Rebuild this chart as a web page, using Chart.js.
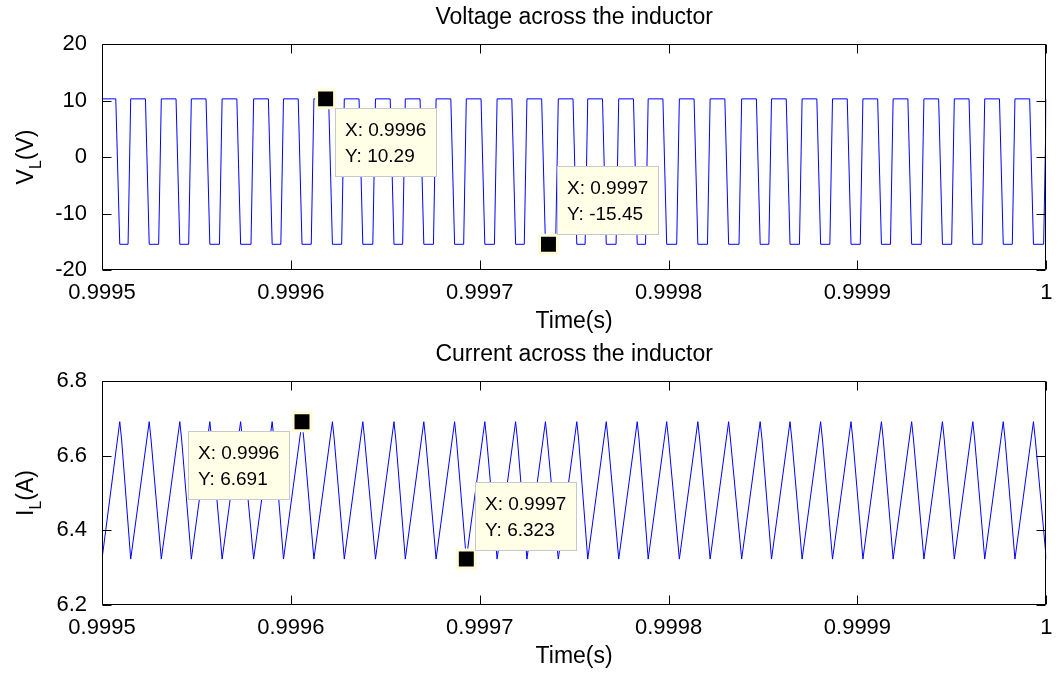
<!DOCTYPE html>
<html>
<head>
<meta charset="utf-8">
<script src="https://cdn.jsdelivr.net/npm/chart.js@4.4.1/dist/chart.umd.min.js"></script>
<style>
  html, body { margin: 0; padding: 0; background: #fff; }
  #wrap { position: relative; width: 1062px; height: 675px; }
  #wrap > div { position: absolute; left: 0; width: 1062px; }
</style>
</head>
<body>
<div id="wrap">
  <div style="top:0;height:337px"><canvas id="vChart" width="1062" height="337"></canvas></div>
  <div style="top:337px;height:338px"><canvas id="iChart" width="1062" height="338"></canvas></div>
</div>
<script>
// time axis, all times below are microseconds after t0
const t0 = 0.9995;
const xTicks = [0.9995, 0.9996, 0.9997, 0.9998, 0.9999, 1];
const xTickLabels = ["0.9995", "0.9996", "0.9997", "0.9998", "0.9999", "1"];
const vTicks = [-20, -10, 0, 10, 20];
const vTickLabels = ["-20", "-10", "0", "10", "20"];
const iTicks = [6.2, 6.4, 6.6, 6.8];
const iTickLabels = ["6.2", "6.4", "6.6", "6.8"];

// V_L reaches +10.29 (I_L sits at its valley)
const tOn = [0, 15.2, 31.4, 47.3, 63.6, 80.3, 96.1, 112.2, 128.3, 144.8, 160.6, 176.9, 192.9, 209.2, 225.0, 241.6,
  257.2, 273.6, 289.2, 305.7, 322.0, 338.7, 354.5, 370.7, 386.8, 402.9, 418.9, 435.2, 451.3, 467.4, 483.4, 500];
// V_L leaves +10.29
const tOffStart = [7.3, 23.0, 39.2, 55.1, 71.4, 88.1, 103.9, 120.0, 136.1, 152.6, 168.4, 184.7, 200.7, 217.0, 232.8,
  249.4, 265.0, 281.4, 297.0, 313.5, 329.8, 346.5, 362.3, 378.5, 394.6, 410.7, 426.7, 443.0, 459.1, 475.2, 491.2];
// V_L reaches -15.45 (I_L at its peak)
const tOff = [9.4, 25.0, 41.2, 57.1, 73.4, 90.1, 105.9, 122.0, 138.1, 154.6, 170.4, 186.7, 202.7, 219.0, 234.8,
  251.4, 267.0, 283.4, 299.0, 315.5, 331.8, 348.5, 364.3, 380.5, 396.6, 412.7, 428.7, 445.0, 461.1, 477.2, 493.2];
// V_L leaves -15.45
const tOnStart = [13.8, 30.0, 45.9, 62.2, 78.9, 94.7, 110.8, 126.9, 143.4, 159.2, 175.5, 191.5, 207.8, 223.6, 240.2,
  255.8, 272.2, 287.8, 304.3, 320.6, 337.3, 353.1, 369.3, 385.4, 401.5, 417.5, 433.8, 449.9, 466.0, 482.0, 498.6];
// small bend just after each I_L peak
const tKnee = [10.4, 26.0, 42.2, 58.1, 74.4, 91.1, 106.9, 123.0, 139.1, 155.6, 171.4, 187.7, 203.7, 220.0, 235.8,
  252.4, 268.0, 284.4, 300.0, 316.5, 332.8, 349.5, 365.3, 381.5, 397.6, 413.7, 429.7, 446.0, 462.1, 478.2, 494.2];

const vHigh = 10.29, vLow = -15.45;
const iPeak = 6.691, iValley = 6.323, iKnee = 6.642;

// data tips
const vTipT = [118.4, 236.4];
const vTipY = [10.29, -15.45];
const iTipT = [105.9, 192.9];
const iTipY = [6.691, 6.323];

const sec = us => t0 + us * 1e-6;

const vPts = [], iPts = [];
for (let k = 0; k < tOffStart.length; k++) {
  vPts.push({x: sec(tOn[k]), y: vHigh}, {x: sec(tOffStart[k]), y: vHigh},
            {x: sec(tOff[k]), y: vLow}, {x: sec(tOnStart[k]), y: vLow});
  iPts.push({x: sec(tOn[k]), y: iValley}, {x: sec(tOff[k]), y: iPeak}, {x: sec(tKnee[k]), y: iKnee});
}
vPts.push({x: sec(tOn[tOn.length - 1]), y: vHigh});
iPts.push({x: sec(tOn[tOn.length - 1]), y: iValley});

const vTips = vTipT.map((t, i) => ({x: sec(t), y: vTipY[i]}));
const iTips = iTipT.map((t, i) => ({x: sec(t), y: iTipY[i]}));

const FAM = '"Liberation Sans", Arial, sans-serif';
Chart.defaults.font.family = FAM;
Chart.defaults.font.size = 22;
Chart.defaults.color = "#000";

// matlab look: box, inward ticks, centred title, subscript y label, data tip boxes
const matlabAxes = {
  id: "matlabAxes",
  afterDatasetsDraw(chart, args, opts) {
    const ctx = chart.ctx;
    const pts = chart.getDatasetMeta(0).data;
    ctx.save();
    ctx.font = "19px " + FAM;
    pts.forEach((p, i) => {
      const raw = chart.data.datasets[0].data[i];
      const lines = ["X: " + raw.x.toPrecision(4), "Y: " + raw.y.toPrecision(4)];
      const w = Math.round(Math.max(...lines.map(s => ctx.measureText(s).width)) + 21);
      const h = 69;
      const pl = opts.boxes[i];
      const bx = Math.round(pl.left ? p.x + pl.dx - w : p.x + pl.dx);
      const by = Math.round(p.y + pl.dy);
      ctx.fillStyle = "#ffffe8";
      ctx.strokeStyle = "#c8c8c8";
      ctx.lineWidth = 1;
      ctx.fillRect(bx, by, w, h);
      ctx.strokeRect(bx + 0.5, by + 0.5, w - 1, h - 1);
      ctx.fillStyle = "#000";
      ctx.textBaseline = "middle";
      ctx.textAlign = "left";
      ctx.fillText(lines[0], bx + 10, by + 23);
      ctx.fillText(lines[1], bx + 10, by + 49);
    });
    ctx.restore();
  },
  afterDraw(chart, args, opts) {
    const {ctx, chartArea: a, scales: {x, y}} = chart;
    const L = Math.round(a.left) + 0.5, R = Math.round(a.right) - 0.5;
    const T = Math.round(a.top) + 0.5, B = Math.round(a.bottom) - 0.5;
    ctx.save();
    ctx.strokeStyle = "#000";
    ctx.lineWidth = 1;
    ctx.beginPath();
    ctx.rect(L, T, R - L, B - T);
    x.ticks.forEach(t => {
      const px = Math.round(x.getPixelForValue(t.value)) + 0.5;
      ctx.moveTo(px, B); ctx.lineTo(px, B - 9);
      ctx.moveTo(px, T); ctx.lineTo(px, T + 9);
    });
    y.ticks.forEach(t => {
      const py = Math.round(y.getPixelForValue(t.value)) + 0.5;
      ctx.moveTo(L, py); ctx.lineTo(L + 9, py);
      ctx.moveTo(R, py); ctx.lineTo(R - 9, py);
    });
    ctx.stroke();

    // title centred over the axes
    ctx.fillStyle = "#000";
    ctx.font = "23px " + FAM;
    ctx.textAlign = "center";
    ctx.textBaseline = "middle";
    ctx.fillText(opts.title, (a.left + a.right) / 2, 18);

    // rotated y label with a subscript
    const big = "23px " + FAM;
    const small = "16px " + FAM;
    const parts = opts.ylabel;
    let total = 0;
    parts.forEach(pt => { ctx.font = pt.sub ? small : big; pt.w = ctx.measureText(pt.t).width; total += pt.w; });
    ctx.translate(opts.ylabelX, (a.top + a.bottom) / 2);
    ctx.rotate(-Math.PI / 2);
    ctx.textAlign = "left";
    ctx.textBaseline = "alphabetic";
    let cx = -total / 2;
    parts.forEach(pt => {
      ctx.font = pt.sub ? small : big;
      ctx.fillText(pt.t, cx, pt.sub ? 16 : 8);
      cx += pt.w;
    });
    ctx.restore();
  }
};

function makeChart(id, cfg) {
  return new Chart(document.getElementById(id), {
    type: "line",
    data: {
      datasets: [
        {
          data: cfg.tips,
          showLine: false,
          pointStyle: "rect",
          pointRadius: 12.7,
          pointBackgroundColor: "#000",
          pointBorderColor: "#fffbd6",
          pointBorderWidth: 3,
          order: 0,
          clip: false
        },
        {
          data: cfg.points,
          borderColor: "#0000ff",
          borderWidth: 1,
          pointRadius: 0,
          tension: 0,
          fill: false,
          order: 1
        }
      ]
    },
    options: {
      responsive: false,
      animation: false,
      events: [],
      layout: {padding: {left: 0, right: 6, top: 44, bottom: 0}},
      plugins: {
        legend: {display: false},
        tooltip: {enabled: false},
        title: {display: false},
        matlabAxes: {title: cfg.title, ylabel: cfg.ylabel, ylabelX: 25, boxes: cfg.boxes}
      },
      scales: {
        x: {
          type: "linear",
          min: xTicks[0],
          max: xTicks[xTicks.length - 1],
          grid: {display: false},
          border: {display: false},
          afterBuildTicks: s => { s.ticks = xTicks.map(v => ({value: v})); },
          afterFit: s => { s.height = cfg.xHeight; },
          ticks: {
            autoSkip: false,
            maxRotation: 0,
            padding: 2,
            callback: (v, i) => xTickLabels[i]
          },
          title: {display: true, text: "Time(s)", font: {size: 23}, color: "#000", padding: {top: 0, bottom: cfg.xTitlePad}}
        },
        y: {
          min: cfg.yTicks[0],
          max: cfg.yTicks[cfg.yTicks.length - 1],
          grid: {display: false},
          border: {display: false},
          afterBuildTicks: s => { s.ticks = cfg.yTicks.map(v => ({value: v})); },
          afterFit: s => { s.width = 102; },
          ticks: {padding: 7, callback: (v, i) => cfg.yTickLabels[i]}
        }
      }
    },
    plugins: [matlabAxes]
  });
}

makeChart("vChart", {
  title: "Voltage across the inductor",
  ylabel: [{t: "V"}, {t: "L", sub: true}, {t: "(V)"}],
  points: vPts,
  tips: vTips,
  boxes: [{dx: 9, dy: 9}, {dx: 9, dy: -78}],
  yTicks: vTicks,
  yTickLabels: vTickLabels,
  xHeight: 67,
  xTitlePad: 1.8
});

makeChart("iChart", {
  title: "Current across the inductor",
  ylabel: [{t: "I"}, {t: "L", sub: true}, {t: "(A)"}],
  points: iPts,
  tips: iTips,
  boxes: [{dx: -12, dy: 9, left: true}, {dx: 9, dy: -77}],
  yTicks: iTicks,
  yTickLabels: iTickLabels,
  xHeight: 70,
  xTitlePad: 4.8
});
</script>
</body>
</html>
